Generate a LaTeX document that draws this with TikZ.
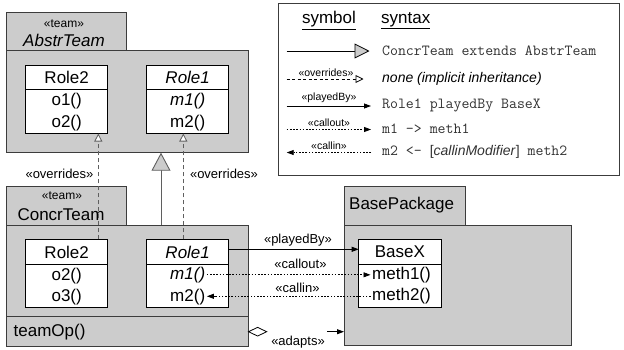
\documentclass[tikz,border=0pt]{standalone}
\usepackage{fontspec}
\setmainfont{Liberation Sans}
\usetikzlibrary{arrows.meta,shapes.geometric}

\definecolor{pkgfill}{RGB}{204,204,204}
\definecolor{pkgline}{RGB}{60,60,60}
\definecolor{linkgray}{RGB}{95,95,95}
\definecolor{codegray}{RGB}{50,50,50}

\tikzset{
  pkg/.style={draw=pkgline, fill=pkgfill, line width=0.9pt, anchor=north west,
    inner sep=0pt, outer sep=0pt},
  rolebox/.style={draw=black, fill=white, line width=0.8pt, anchor=north west,
    inner sep=0pt, outer sep=0pt, minimum width=82pt, minimum height=68pt},
  bigtxt/.style={inner sep=1.5pt, font=\fontsize{17}{19}\selectfont},
  stereo/.style={inner sep=0pt, font=\fontsize{12}{14}\selectfont},
  lbl/.style={inner sep=0pt, font=\fontsize{13}{15}\selectfont},
  tinylbl/.style={inner sep=0pt, font=\fontsize{10.5}{12}\selectfont, fill=white},
  codetxt/.style={inner sep=0pt, anchor=west, text=codegray, font=\fontsize{15.4}{17}\ttfamily},
  headtxt/.style={inner sep=0pt, font=\fontsize{17}{19}\selectfont},
  genlink/.style={draw=linkgray, line width=0.9pt,
    -{Triangle[length=18pt,width=19pt,fill=pkgfill]}},
  ovrlink/.style={draw=linkgray, line width=0.9pt, dash pattern=on 4pt off 3pt,
    -{Triangle[length=8pt,width=8pt,fill=white,line width=0.8pt]}},
  pblink/.style={draw=black, line width=0.8pt, -{Triangle[length=7pt,width=5pt]}},
  dotlink/.style={draw=black, line width=0.8pt, dash pattern=on 1.6pt off 1.6pt,
    -{Triangle[length=7pt,width=5pt]}},
}

\begin{document}
\begin{tikzpicture}[x=1pt,y=-1pt]
\useasboundingbox (0,0) rectangle (624,349);

% ---------- package AbstrTeam ----------
\node[pkg, minimum width=120.7pt, minimum height=38.6pt] (atab) at (6,12.3) {};
\node[pkg, minimum width=242pt, minimum height=102pt] (abody) at (6,50.7) {};
\node[stereo] (ateam) at (64,23.5) {«team»};
\node[bigtxt] (aname) at (64,40.5) {\itshape AbstrTeam};

\node[rolebox] (ar2) at (25.7,65.5) {};
\draw[line width=0.8pt] ([yshift=-24pt]ar2.north west) -- ([yshift=-24pt]ar2.north east);
\node[bigtxt] (ar2t) at (66.7,77.5) {Role2};
\node[bigtxt] (ar2a) at (66.7,101.2) {o1()};
\node[bigtxt] (ar2b) at (66.7,122.9) {o2()};

\node[rolebox] (ar1) at (146.7,65.5) {};
\draw[line width=0.8pt] ([yshift=-24pt]ar1.north west) -- ([yshift=-24pt]ar1.north east);
\node[bigtxt] (ar1t) at (187.7,77.5) {\itshape Role1};
\node[bigtxt] (ar1a) at (187.7,101.2) {\itshape m1()};
\node[bigtxt] (ar1b) at (187.7,122.9) {m2()};

% ---------- package ConcrTeam ----------
\node[pkg, minimum width=120.7pt, minimum height=39pt] (ctab) at (6,186) {};
\node[pkg, minimum width=242pt, minimum height=121pt] (cbody) at (6,225) {};
\node[stereo] (cteam) at (62,195.5) {«team»};
\node[bigtxt] (cname) at (61,214.5) {ConcrTeam};
\draw[draw=pkgline, line width=0.9pt] ([yshift=-91.7pt]cbody.north west) -- ([yshift=-91.7pt]cbody.north east);
\node[bigtxt, anchor=west] (teamop) at (12,332) {teamOp()};

\node[rolebox] (cr2) at (25.7,239.3) {};
\draw[line width=0.8pt] ([yshift=-25pt]cr2.north west) -- ([yshift=-25pt]cr2.north east);
\node[bigtxt] (cr2t) at (66.7,252) {Role2};
\node[bigtxt] (cr2a) at (66.7,275.6) {o2()};
\node[bigtxt] (cr2b) at (66.7,297.3) {o3()};

\node[rolebox] (cr1) at (146.7,239.3) {};
\draw[line width=0.8pt] ([yshift=-25pt]cr1.north west) -- ([yshift=-25pt]cr1.north east);
\node[bigtxt] (cr1t) at (187.7,252) {\itshape Role1};
\node[bigtxt] (cr1a) at (187.7,274.8) {\itshape m1()};
\node[bigtxt] (cr1b) at (187.7,297.3) {m2()};

% ---------- package BasePackage ----------
\node[pkg, minimum width=121pt, minimum height=39pt] (btab) at (344,186) {};
\node[pkg, minimum width=227.7pt, minimum height=120pt] (bbody) at (344,225) {};
\node[bigtxt, anchor=west] (bname) at (347.5,205) {BasePackage};

\node[rolebox, minimum width=82.3pt, minimum height=67.7pt] (bx) at (358.7,239.3) {};
\draw[line width=0.8pt] ([yshift=-24.7pt]bx.north west) -- ([yshift=-24.7pt]bx.north east);
\node[bigtxt] (bxt) at (399.8,252) {BaseX};
\node[bigtxt] (bxa) at (401.5,274.8) {meth1()};
\node[bigtxt] (bxb) at (401.5,296.3) {meth2()};

% ---------- inheritance and overriding ----------
\draw[genlink] ([xshift=155pt]cbody.north west) -- ([xshift=155pt]abody.south west);
\draw[ovrlink] ([xshift=72.6pt]cr2.north west) -- ([xshift=72.6pt]ar2.south west);
\draw[ovrlink] ([xshift=36.6pt]cr1.north west) -- ([xshift=36.6pt]ar1.south west);
\node[lbl] (ovl) at (59.5,173.5) {«overrides»};
\node[lbl] (ovr) at (224,173.5) {«overrides»};

% ---------- role/base bindings ----------
\draw[pblink] ([yshift=-10pt]cr1.north east) -- ([yshift=-10pt]bx.north west);
\node[lbl] (pbl) at (298,240.5) {«playedBy»};
\draw[dotlink] (cr1a.east) -- (cr1a.east -| bxa.west);
\node[lbl] (col) at (300.5,264) {«callout»};
\draw[dotlink] (bxb.west) -- (bxb.west -| cr1b.east);
\node[lbl] (cil) at (297.5,288) {«callin»};

% ---------- adapts ----------
\node[draw=black, fill=white, line width=0.8pt, diamond, aspect=2.1, inner sep=0pt,
      minimum width=18.5pt, minimum height=9pt] (adiam) at (257.6,331.7) {};
\coordinate (adsrc) at (327,331.7);
\draw[pblink] (adsrc) -- (adsrc -| bbody.west);
\node[lbl] (adl) at (298,342.5) {«adapts»};

% ---------- legend ----------
\node[draw=pkgline, line width=0.9pt, anchor=north west, inner sep=0pt,
      minimum width=341.6pt, minimum height=171.7pt] (legend) at (277.7,3.3) {};
\node[headtxt] (hsym) at (329,20.5) {\underline{symbol}};
\node[headtxt, anchor=west] (hsyn) at (381,20.5) {\underline{syntax}};

\coordinate (g1a) at (286.7,51);  \coordinate (g1b) at (369.5,51);
\coordinate (g2a) at (286.7,79);  \coordinate (g2b) at (363.5,79);
\coordinate (g3a) at (286.7,106); \coordinate (g3b) at (371,106);
\coordinate (g4a) at (286.7,129.5); \coordinate (g4b) at (371,129.5);
\coordinate (g5a) at (371,152.5); \coordinate (g5b) at (286.7,152.5);

\draw[draw=black, line width=0.9pt, -{Triangle[length=15pt,width=15pt,fill=pkgfill,line width=0.8pt]}] (g1a) -- (g1b);
\draw[draw=black, line width=0.8pt, dash pattern=on 3pt off 2.5pt,
      -{Triangle[length=8pt,width=8pt,fill=white,line width=0.8pt]}] (g2a) -- (g2b);
\node[tinylbl] (k2) at (326,72.5) {«overrides»};
\draw[pblink] (g3a) -- (g3b);
\node[tinylbl] (k3) at (329,97.5) {«playedBy»};
\draw[dotlink] (g4a) -- (g4b);
\node[tinylbl] (k4) at (329,122.5) {«callout»};
\draw[dotlink] (g5a) -- (g5b);
\node[tinylbl] (k5) at (329,146) {«callin»};

\node[codetxt] (s1) at (382,51) {ConcrTeam extends AbstrTeam};
\node[inner sep=0pt, anchor=west, font=\fontsize{14}{16}\selectfont\itshape] (s2) at (382,78.5) {none (implicit inheritance)};
\node[codetxt] (s3) at (382,105) {Role1 playedBy BaseX};
\node[codetxt] (s4) at (382,129) {m1 -> meth1};
\node[codetxt] (s5) at (382,152) {m2 <- {\fontsize{14}{16}\rmfamily[\textit{callinModifier}]} meth2};
\end{tikzpicture}
\end{document}
